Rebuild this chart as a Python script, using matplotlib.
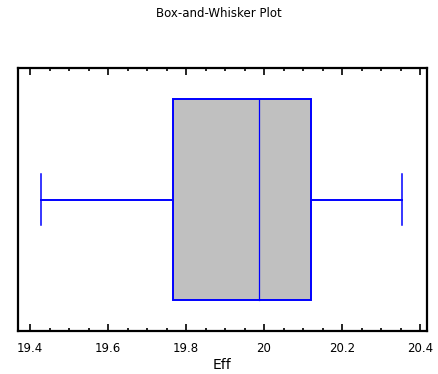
import matplotlib
matplotlib.use("Agg")
import matplotlib.pyplot as plt
from matplotlib.patches import Rectangle
from matplotlib.ticker import MultipleLocator

variable = "Eff"
title = "Box-and-Whisker Plot"
whisker_low = 19.427
q1 = 19.767
median = 19.988
q3 = 20.12
whisker_high = 20.355
xticks = [19.4, 19.6, 19.8, 20.0, 20.2, 20.4]
xticklabels = ["19.4", "19.6", "19.8", "20", "20.2", "20.4"]

fig = plt.figure(figsize=(4.38, 3.74), dpi=100)
ax = fig.add_axes([0.040, 0.115, 0.935, 0.703])
ax.set_xlim(19.368, 20.418)
ax.set_ylim(0, 1)

blue = "#0000ff"
box_lo, box_hi = 0.118, 0.882
ax.add_patch(Rectangle((q1, box_lo), q3 - q1, box_hi - box_lo,
                       facecolor="#c0c0c0", edgecolor=blue, linewidth=1.4, zorder=2))
ax.plot([median, median], [box_lo, box_hi], color=blue, linewidth=0.9, zorder=3)
ax.plot([whisker_low, q1], [0.5, 0.5], color=blue, linewidth=1.4)
ax.plot([q3, whisker_high], [0.5, 0.5], color=blue, linewidth=1.4)
for w in (whisker_low, whisker_high):
    ax.plot([w, w], [0.403, 0.597], color=blue, linewidth=1.1)

ax.set_xticks(xticks)
ax.set_xticklabels(xticklabels, fontsize=8.5)
ax.xaxis.set_minor_locator(MultipleLocator(0.05))
ax.tick_params(axis="x", which="both", direction="in", top=True, bottom=True,
               width=1.2, color="black")
ax.tick_params(axis="x", which="major", length=5, pad=8)
ax.tick_params(axis="x", which="minor", length=2.5)
ax.set_yticks([])
for s in ax.spines.values():
    s.set_linewidth(1.6)

ax.set_xlabel(variable, fontsize=10, labelpad=2)
fig.text(0.5, 0.963, title, ha="center", va="center", fontsize=8.5)

fig.savefig("out.png", dpi=100)
